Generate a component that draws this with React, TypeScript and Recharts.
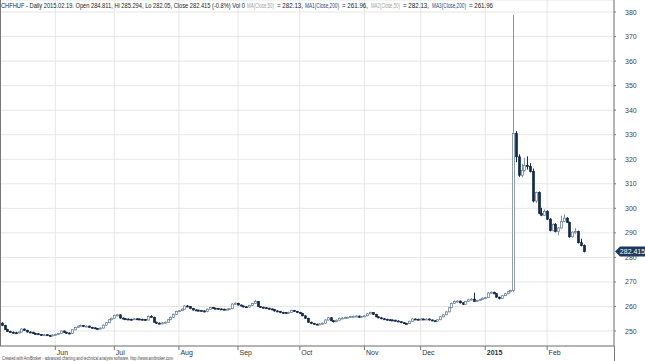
import React from 'react';
import { ComposedChart, Bar, XAxis, YAxis, CartesianGrid, ReferenceLine } from 'recharts';

// daily CHFHUF bars, [open, high, low, close], one array per month
const MAY_2014 = [
  [253.2, 253.6, 252.0, 252.3], [252.3, 252.5, 250.4, 250.6], [250.6, 250.9, 249.6, 249.8],
  [249.8, 250.1, 249.3, 249.5], [249.5, 249.8, 249.0, 249.3], [249.3, 249.7, 248.9, 249.2],
  [249.2, 249.9, 249.0, 249.6], [249.6, 251.1, 249.4, 250.8], [250.8, 251.0, 250.1, 250.3],
  [250.3, 250.5, 249.4, 249.6], [249.6, 249.9, 249.2, 249.5], [249.5, 249.7, 248.8, 249.0],
  [249.0, 249.3, 248.6, 248.9], [248.9, 249.1, 248.4, 248.6], [248.6, 248.8, 248.0, 248.3],
  [248.3, 248.8, 248.1, 248.5], [248.5, 248.7, 248.0, 248.2], [248.2, 248.4, 247.8, 248.0],
  [248.0, 248.7, 247.9, 248.4],
];
const JUN_2014 = [
  [248.4, 248.9, 248.2, 248.6], [248.6, 249.2, 248.4, 249.0], [249.0, 250.3, 248.8, 250.0],
  [250.0, 250.2, 249.3, 249.5], [249.5, 249.7, 249.0, 249.2], [249.2, 249.4, 248.7, 249.0],
  [249.0, 250.8, 248.9, 250.5], [250.5, 251.7, 250.3, 251.4], [251.4, 252.3, 251.2, 252.0],
  [252.0, 252.6, 251.8, 252.2], [252.2, 252.4, 251.6, 251.9], [251.9, 252.3, 251.7, 252.0],
  [252.0, 252.2, 251.3, 251.5], [251.5, 251.7, 251.0, 251.3], [251.3, 251.5, 250.8, 251.0],
  [251.0, 251.2, 250.6, 250.9], [250.9, 251.5, 250.7, 251.2], [251.2, 252.7, 251.0, 252.4],
  [252.4, 253.7, 252.2, 253.4], [253.4, 254.9, 253.2, 254.6], [254.6, 255.5, 254.3, 255.2],
];
const JUL_2014 = [
  [255.2, 256.7, 255.0, 256.4], [256.4, 257.0, 256.0, 256.6], [256.6, 256.8, 255.0, 255.3],
  [255.3, 255.5, 254.7, 255.0], [255.0, 255.3, 254.6, 254.9], [254.9, 255.1, 254.5, 254.8],
  [254.8, 255.0, 254.4, 254.7], [254.7, 255.3, 254.5, 255.0], [255.0, 255.2, 254.6, 254.9],
  [254.9, 255.1, 254.5, 254.8], [254.8, 255.0, 254.4, 254.7], [254.7, 254.9, 254.2, 254.5],
  [254.5, 256.3, 254.3, 256.0], [256.0, 256.4, 255.3, 255.6], [255.6, 255.8, 253.4, 253.6],
  [253.6, 253.8, 252.9, 253.2], [253.2, 253.5, 252.8, 253.0], [253.0, 253.6, 252.8, 253.3],
  [253.3, 253.9, 253.1, 253.6], [253.6, 254.9, 253.4, 254.6], [254.6, 255.9, 254.4, 255.6],
  [255.6, 257.1, 255.4, 256.8], [256.8, 258.3, 256.6, 258.0],
];
const AUG_2014 = [
  [258.0, 258.6, 257.8, 258.3], [258.3, 259.2, 258.1, 258.9], [258.9, 260.5, 258.7, 260.2],
  [260.2, 260.6, 259.7, 260.0], [260.0, 260.2, 258.9, 259.2], [259.2, 259.4, 258.3, 258.6],
  [258.6, 258.8, 258.2, 258.5], [258.5, 258.7, 258.1, 258.4], [258.4, 258.6, 257.9, 258.2],
  [258.2, 258.4, 257.6, 257.9], [257.9, 259.2, 257.7, 258.9], [258.9, 259.9, 258.7, 259.6],
  [259.6, 259.8, 259.0, 259.3], [259.3, 259.5, 258.9, 259.2], [259.2, 259.4, 258.8, 259.0],
  [259.0, 259.2, 258.6, 258.9], [258.9, 259.1, 258.5, 258.8], [258.8, 259.2, 258.6, 258.9],
  [258.9, 259.4, 258.7, 259.1], [259.1, 261.3, 258.9, 261.0], [261.0, 261.7, 260.7, 261.3],
];
const SEP_2014 = [
  [261.3, 261.5, 260.4, 260.6], [260.6, 260.8, 260.0, 260.2], [260.2, 260.4, 259.6, 259.9],
  [259.9, 260.1, 259.5, 259.8], [259.8, 260.7, 259.6, 260.4], [260.4, 261.5, 260.2, 261.2],
  [261.2, 262.6, 261.0, 262.0], [262.0, 262.2, 259.8, 260.0], [260.0, 260.2, 259.4, 259.7],
  [259.7, 259.9, 259.2, 259.5], [259.5, 259.7, 259.0, 259.3], [259.3, 259.5, 258.7, 259.0],
  [259.0, 259.2, 258.5, 258.8], [258.8, 259.0, 257.9, 258.2], [258.2, 258.4, 257.7, 258.0],
  [258.0, 258.2, 257.3, 257.6], [257.6, 257.8, 257.2, 257.5], [257.5, 257.7, 257.0, 257.3],
  [257.3, 257.9, 257.1, 257.6], [257.6, 258.7, 257.4, 258.4], [258.4, 258.6, 257.8, 258.0],
  [258.0, 258.2, 257.3, 257.6],
];
const OCT_2014 = [
  [257.6, 257.8, 256.9, 257.2], [257.2, 257.4, 256.0, 256.2], [256.2, 256.4, 255.0, 255.2],
  [255.2, 255.4, 253.3, 253.6], [253.6, 253.8, 252.8, 253.1], [253.1, 253.3, 252.5, 252.8],
  [252.8, 253.0, 252.4, 252.7], [252.7, 253.2, 252.5, 252.9], [252.9, 253.5, 252.7, 253.2],
  [253.2, 254.8, 253.0, 254.5], [254.5, 255.8, 254.3, 255.4], [255.4, 255.6, 254.0, 254.2],
  [254.2, 254.4, 253.5, 253.8], [253.8, 254.7, 253.6, 254.4], [254.4, 255.5, 254.2, 255.2],
  [255.2, 255.6, 255.0, 255.3], [255.3, 255.9, 255.1, 255.6], [255.6, 255.8, 255.3, 255.6],
  [255.6, 256.2, 255.4, 255.9], [255.9, 256.3, 255.7, 256.0], [256.0, 256.4, 255.8, 256.1],
  [256.1, 256.3, 255.4, 255.6], [255.6, 256.1, 255.4, 255.9],
];
const NOV_2014 = [
  [255.9, 256.5, 255.7, 256.2], [256.2, 257.3, 256.0, 257.0], [257.0, 257.9, 256.8, 257.5],
  [257.5, 257.7, 256.6, 256.8], [256.8, 257.0, 255.6, 255.8], [255.8, 256.0, 255.2, 255.4],
  [255.4, 255.6, 254.8, 255.0], [255.0, 255.2, 254.6, 254.8], [254.8, 255.0, 254.4, 254.6],
  [254.6, 254.8, 254.3, 254.5], [254.5, 254.7, 254.2, 254.4], [254.4, 254.6, 253.9, 254.1],
  [254.1, 254.3, 253.6, 253.8], [253.8, 254.0, 253.2, 253.4], [253.4, 253.6, 252.9, 253.1],
  [253.1, 253.3, 252.8, 253.0], [253.0, 254.2, 252.9, 254.0], [254.0, 255.2, 253.8, 254.9],
  [254.9, 255.1, 254.5, 254.8], [254.8, 255.0, 254.5, 254.7],
];
const DEC_2014 = [
  [254.7, 255.2, 254.5, 254.9], [254.9, 255.1, 254.6, 254.8], [254.8, 255.1, 254.6, 254.9],
  [254.9, 255.1, 254.3, 254.5], [254.5, 254.7, 254.0, 254.2], [254.2, 254.4, 253.8, 254.0],
  [254.0, 254.8, 253.9, 254.6], [254.6, 256.1, 254.4, 255.8], [255.8, 256.9, 255.6, 256.6],
  [256.6, 258.1, 256.4, 257.8], [257.8, 259.8, 257.6, 259.5], [259.5, 261.6, 259.3, 261.3],
  [261.3, 262.4, 261.1, 262.0], [262.0, 262.6, 261.6, 262.2], [262.2, 262.4, 261.2, 261.5],
  [261.5, 261.7, 260.6, 260.9], [260.9, 262.3, 260.7, 262.0], [262.0, 263.0, 261.8, 262.7],
  [262.7, 263.4, 262.5, 263.0], [263.0, 265.6, 261.8, 262.0], [262.0, 262.7, 261.8, 262.4],
  [262.4, 263.2, 262.2, 262.9], [262.9, 263.7, 262.7, 263.4],
];
const JAN_2015 = [
  [263.4, 263.9, 263.0, 263.6], [263.6, 265.8, 263.4, 265.5], [265.5, 266.1, 265.2, 265.8],
  [265.8, 266.0, 265.0, 265.2], [265.2, 265.4, 263.6, 263.8], [263.8, 264.0, 262.9, 263.2],
  [263.2, 264.7, 263.0, 264.4], [264.4, 265.5, 264.2, 265.2], [265.2, 266.3, 265.0, 266.0],
  [266.0, 266.8, 265.8, 266.5], [266.5, 378.8, 265.8, 330.5], [330.5, 331.5, 318.8, 321.0],
  [321.0, 322.0, 312.8, 313.5], [313.5, 318.2, 312.6, 315.5], [315.5, 320.6, 315.0, 317.5],
  [317.5, 321.2, 315.8, 317.0], [317.0, 318.4, 314.6, 315.0], [315.0, 316.2, 302.4, 303.0],
  [303.0, 306.8, 302.2, 306.4], [306.4, 306.9, 297.6, 298.0], [298.0, 300.2, 296.8, 297.2],
  [297.2, 299.6, 296.9, 298.8],
];
const FEB_2015 = [
  [298.8, 299.2, 295.2, 295.6], [295.6, 296.0, 290.6, 291.0], [291.0, 293.9, 290.6, 293.5],
  [293.5, 294.0, 290.2, 290.5], [290.5, 292.4, 289.0, 292.0], [292.0, 297.0, 291.8, 294.7],
  [294.7, 297.5, 294.3, 296.0], [296.0, 296.4, 294.0, 294.3], [294.3, 294.6, 288.0, 288.4],
  [288.4, 290.6, 288.1, 290.3], [290.3, 292.0, 289.5, 290.5], [290.5, 290.9, 285.7, 286.0],
  [286.0, 287.6, 284.5, 284.8], [284.811, 285.294, 282.05, 282.415],
];

const MONTH_ROWS = [MAY_2014, JUN_2014, JUL_2014, AUG_2014, SEP_2014, OCT_2014, NOV_2014, DEC_2014, JAN_2015, FEB_2015];
const MONTH_NAMES = ['May', 'Jun', 'Jul', 'Aug', 'Sep', 'Oct', 'Nov', 'Dec', '2015', 'Feb'];
const PRICE_TICKS = [250, 260, 270, 280, 290, 300, 310, 320, 330, 340, 350, 360, 370, 380];
const LAST_CLOSE = 282.415;

// title pieces: text, colour, left, right (px)
const TITLE = [
  ['CHFHUF - Daily 2015.02.19. Open 284.811, Hi 285.294, Lo 282.05, Close 282.415 (-0.8%) Vol 0', '#222', 1, 245],
  ['MA(Close,50)', '#a0a0a0', 247, 274],
  ['= 282.13,', '#222', 277, 303],
  ['MA1(Close,200)', '#1f3f7a', 305, 339],
  ['= 261.96,', '#222', 342, 368],
  ['MA2(Close,50)', '#a0a0a0', 371, 400],
  ['= 282.13,', '#222', 403, 429],
  ['MA3(Close,200)', '#1f3f7a', 432, 466],
  ['= 261.96', '#222', 469, 493],
];
const TITLE_SQUEEZE = 0.62;

const data = MONTH_ROWS.flat().map(([o, h, l, c], i) => ({ i, o, h, l, c, range: [l, h] }));

const monthStarts: { i: number; label: string }[] = [];
let count = 0;
MONTH_ROWS.forEach((rows, k) => {
  if (k > 0) monthStarts.push({ i: count, label: MONTH_NAMES[k] });
  count += rows.length;
});

const UP_LINE = '#5f7890';
const UP_WICK = '#8197ab';
const DOWN = '#132a4a';
const FONT = 'Liberation Sans, Arial, sans-serif';

const Candle = (props: any) => {
  const { x, y, width, height, payload } = props;
  const { o, h, l, c } = payload;
  const cx = Math.round(x + width / 2) + 0.5;
  const k = h === l ? 0 : height / (h - l);
  const yo = y + (h - o) * k;
  const yc = y + (h - c) * k;
  const top = Math.min(yo, yc);
  const bh = Math.max(Math.abs(yo - yc), 1);
  const up = c >= o;
  return (
    <g>
      <line x1={cx} x2={cx} y1={y} y2={y + height} stroke={up ? UP_WICK : DOWN} strokeWidth={1} />
      <rect x={cx - 1} y={top} width={2} height={bh}
        fill={up ? '#ffffff' : DOWN} stroke={up ? UP_LINE : DOWN} strokeWidth={0.7} />
    </g>
  );
};

const MonthTick = ({ x, y, payload }: any) => {
  const m = monthStarts.find((s) => s.i === payload.value);
  const label = m ? m.label : '';
  return (
    <text x={x + 1.5} y={y + 3} fontSize={7} fontFamily={FONT} fill="#333"
      fontWeight={label === '2015' ? 'bold' : 'normal'}>
      {label}
    </text>
  );
};

const PriceTag = ({ viewBox }: any) => {
  const x0 = viewBox.x + viewBox.width;
  const yy = viewBox.y;
  return (
    <g>
      <polygon
        points={`${x0 + 1},${yy} ${x0 + 6},${yy - 5} ${x0 + 31},${yy - 5} ${x0 + 31},${yy + 5} ${x0 + 6},${yy + 5}`}
        fill="#1d3a5c" />
      <text x={x0 + 18.5} y={yy + 2.5} textAnchor="middle" fontSize={7} fontFamily={FONT} fill="#fff">
        {LAST_CLOSE.toFixed(3)}
      </text>
    </g>
  );
};

export default function App() {
  return (
    <div style={{ position: 'absolute', left: 0, top: 0, width: 645, height: 361, background: '#fff' }}>
      <ComposedChart width={645} height={361} data={data} margin={{ top: 0, right: 0, bottom: 0, left: 0 }}>
        <CartesianGrid stroke="#e6e6e6" strokeWidth={1} />
        <XAxis dataKey="i" type="number" domain={[-0.68, 217.8]} allowDataOverflow
          ticks={monthStarts.map((m) => m.i)} interval={0} height={15}
          axisLine={{ stroke: '#777' }} tickLine={{ stroke: '#777' }} tickSize={4}
          tick={<MonthTick />} />
        <YAxis orientation="right" width={31} domain={[243.9, 384.9]} allowDataOverflow
          ticks={PRICE_TICKS} interval={0} tickSize={2} tickMargin={9}
          axisLine={{ stroke: '#777' }} tickLine={{ stroke: '#777' }}
          tick={{ fontSize: 7, fill: '#444', fontFamily: FONT }} />
        <Bar dataKey="range" barSize={3} shape={<Candle />} isAnimationActive={false} />
        <ReferenceLine y={LAST_CLOSE} stroke="none" label={<PriceTag />} />
      </ComposedChart>
      <svg width={645} height={361} style={{ position: 'absolute', left: 0, top: 0, pointerEvents: 'none' }}>
        <line x1={0.5} x2={0.5} y1={0} y2={346} stroke="#777" />
        <line x1={614.5} x2={614.5} y1={346} y2={361} stroke="#777" />
        {TITLE.map(([text, color, x0, x1]) => (
          <g key={`${text}-${x0}`} transform={`translate(${x0},7.5) scale(${TITLE_SQUEEZE},1)`}>
            <text x={0} y={0} fontSize={7} fontFamily={FONT} fill={color as string}
              textLength={((x1 as number) - (x0 as number)) / TITLE_SQUEEZE} lengthAdjust="spacingAndGlyphs">
              {text}
            </text>
          </g>
        ))}
        <g transform="translate(2,359.5) scale(0.6,1)">
          <text x={0} y={0} fontSize={4.5} fontFamily={FONT} fill="#444" textLength={171 / 0.6} lengthAdjust="spacingAndGlyphs">
            Created with AmiBroker - advanced charting and technical analysis software. http://www.amibroker.com
          </text>
        </g>
      </svg>
    </div>
  );
}
